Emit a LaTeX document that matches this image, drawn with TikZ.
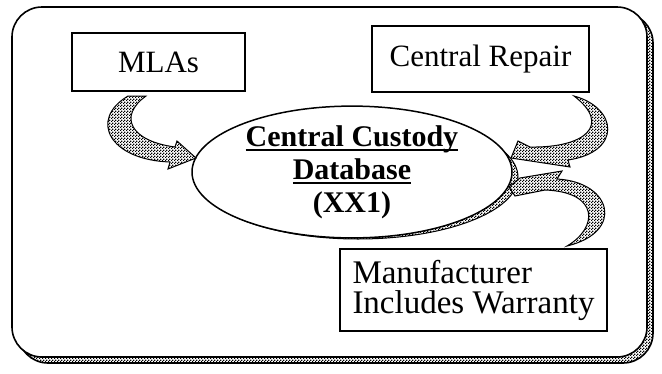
\documentclass[tikz,border=0pt]{standalone}
\usepackage{fontspec}
\setmainfont{Liberation Serif}
\usetikzlibrary{shapes.geometric,patterns}
\pgfdeclarepatternformonly{stipple}{\pgfpointorigin}{\pgfpoint{3pt}{3pt}}{\pgfpoint{3pt}{3pt}}{%
  \pgfpathrectangle{\pgfpointorigin}{\pgfpoint{1.6pt}{1.6pt}}%
  \pgfpathrectangle{\pgfpoint{1.5pt}{1.5pt}}{\pgfpoint{1.6pt}{1.6pt}}%
  \pgfusepath{fill}}
\newcommand\thickul[1]{\setbox0\hbox{#1}\rlap{\rule[-4.5pt]{\wd0}{1.6pt}}\box0}
\begin{document}
\begin{tikzpicture}[x=1pt,y=-1pt,
  stip/.style={fill=white, postaction={pattern=stipple, pattern color=black}, draw=black, line width=1pt},
  boxnode/.style={draw, line width=1.2pt, fill=white, inner sep=0pt,
    font=\fontsize{31}{30}\selectfont},
  dbnode/.style={ellipse, draw, line width=1.5pt, fill=white, inner sep=0pt,
    minimum width=320pt, minimum height=124pt, align=center,
    font=\fontsize{30}{33}\selectfont\bfseries}]
\useasboundingbox (0,0) rectangle (662,373);
% outer frame with shadow
\draw[stip, line width=1.6pt, rounded corners=30pt] (18,13) rectangle (653,363);
\draw[line width=1.6pt, fill=white, rounded corners=30pt] (12,7) rectangle (647,357);
% boxes
\node[boxnode, minimum width=173pt, minimum height=58pt] (mla) at (158.5,62) {MLAs};
\node[boxnode, minimum width=217pt, minimum height=66pt] (rep) at (480.5,59) {Central Repair};
\node[boxnode, minimum width=267pt, minimum height=82pt, align=left,
  font=\fontsize{33}{30}\selectfont] (man) at (473.5,290) {Manufacturer\\Includes Warranty};
% database ellipse with shadow
\node[ellipse, stip, minimum width=320pt, minimum height=124pt] (dbsh) at (358,177) {};
\node[dbnode] (db) at (352,172) {\thickul{Central Custody}\\\thickul{Database}\\(XX1)};
% curved arrows
\draw[stip] (128,96) .. controls (88,120) and (110,160) .. (170,162) -- (168,169)
  -- (196,158) -- (177,141) -- (175,147) .. controls (130,141) and (118,116) .. (146,96) -- cycle;
\draw[stip] (574,96) .. controls (618,108) and (622,152) .. (568,160) -- (570,167)
  -- (511,158) -- (518,141) -- (530,147) .. controls (585,148) and (612,125) .. (574,96) -- cycle;
\draw[stip] (509,187) -- (520,178) -- (562,171) -- (557,179)
  .. controls (612,182) and (625,232) .. (567,246)
  .. controls (598,228) and (600,192) .. (545,190) -- (515,196) -- cycle;
\end{tikzpicture}
\end{document}
